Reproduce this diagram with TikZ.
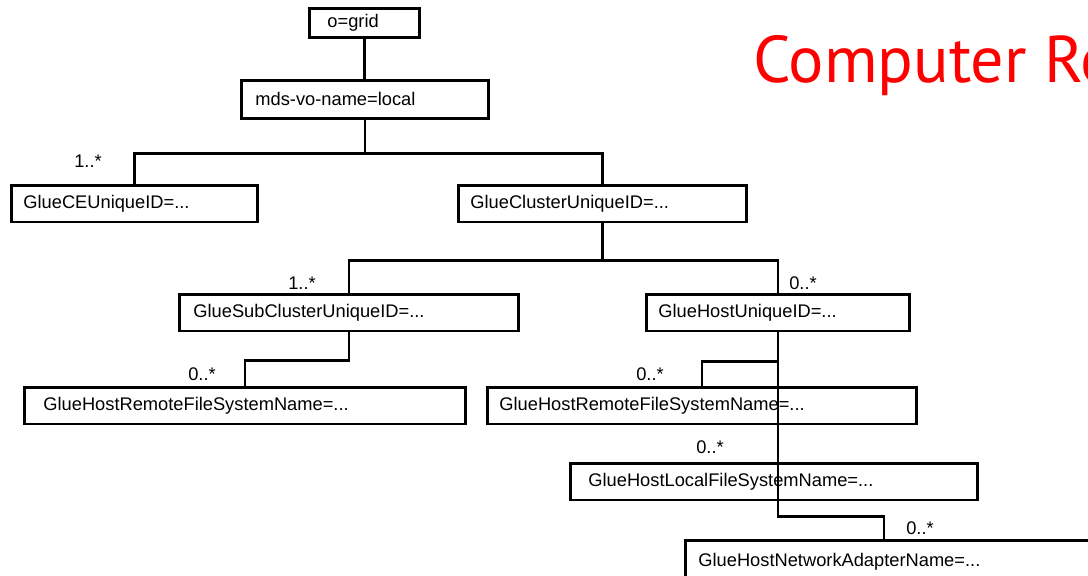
\documentclass[tikz,border=0pt]{standalone}
\usepackage{fontspec}
\setmainfont{Liberation Sans}
\newfontfamily\handfont{PT Sans}
\tikzset{
  box/.style={draw, line width=2pt, anchor=north west, align=left, inner xsep=0.3cm, minimum height=0.915cm, font=\fontsize{13}{15}\selectfont},
  mult/.style={font=\fontsize{13}{15}\selectfont, inner sep=0pt},
  link/.style={line width=2pt}
}
\begin{document}
\begin{tikzpicture}[x=0.025cm, y=-0.025cm]
\useasboundingbox (0,0) rectangle (1088,576);
\clip (0,0) rectangle (1088,576);
% title
\path (753,83) node (title) [anchor=base west, text=red, inner sep=0pt, font=\handfont\fontsize{47}{50}\selectfont] {Computer Re};
% directory tree
\path (308,7) node (grid) [box, text width=1.85cm, inner xsep=0.45cm, minimum height=0.725cm] {o=grid};
\path (240,79) node (mds) [box, text width=5.475cm, inner xsep=0.35cm, minimum height=0.95cm] {mds-vo-name=local};
\path (10,184) node (ce) [box, text width=5.55cm] {GlueCEUniqueID=...};
\path (457,184) node (cluster) [box, text width=6.6cm] {GlueClusterUniqueID=...};
\path (178,293) node (sub) [box, text width=7.775cm, inner xsep=0.35cm] {GlueSubClusterUniqueID=...};
\path (645,293) node (host) [box, text width=5.975cm] {GlueHostUniqueID=...};
\path (23,386) node (rem1) [box, text width=10.075cm, inner xsep=0.475cm] {GlueHostRemoteFileSystemName=...};
\path (486,386) node (rem2) [box, text width=10.125cm] {GlueHostRemoteFileSystemName=...};
\path (569,462) node (local) [box, text width=9.275cm, inner xsep=0.45cm] {GlueHostLocalFileSystemName=...};
\path (684,539) node (net) [box, text width=10.85cm, inner xsep=0.325cm, minimum height=1.05cm] {GlueHostNetworkAdapterName=...};
\coordinate (netin) at (884,539);
% multiplicities
\path (88,161) node (m1) [mult] {1..*};
\path (302,283) node (m2) [mult] {1..*};
\path (803,283) node (m3) [mult] {0..*};
\path (202,374) node (m4) [mult] {0..*};
\path (650,374) node (m5) [mult] {0..*};
\path (710,447) node (m6) [mult] {0..*};
\path (920,528) node (m7) [mult] {0..*};
% links
\draw[link] (grid.south) -- (grid.south |- mds.north);
\draw[link] (mds.south) -- ++(0,34) -| (ce.north);
\draw[link] (mds.south) -- ++(0,34) -| (cluster.north);
\draw[link] (cluster.south) -- ++(0,37) -| (sub.north);
\draw[link] (cluster.south) -- ++(0,37) -| (host.north);
\draw[link] (sub.south) -- ++(0,28) -| (rem1.north);
\draw[link] (host.south) -- ++(0,29) -| (rem2.north);
\draw[link] (host.south) -- ++(0,184) -| (netin);
\end{tikzpicture}
\end{document}
